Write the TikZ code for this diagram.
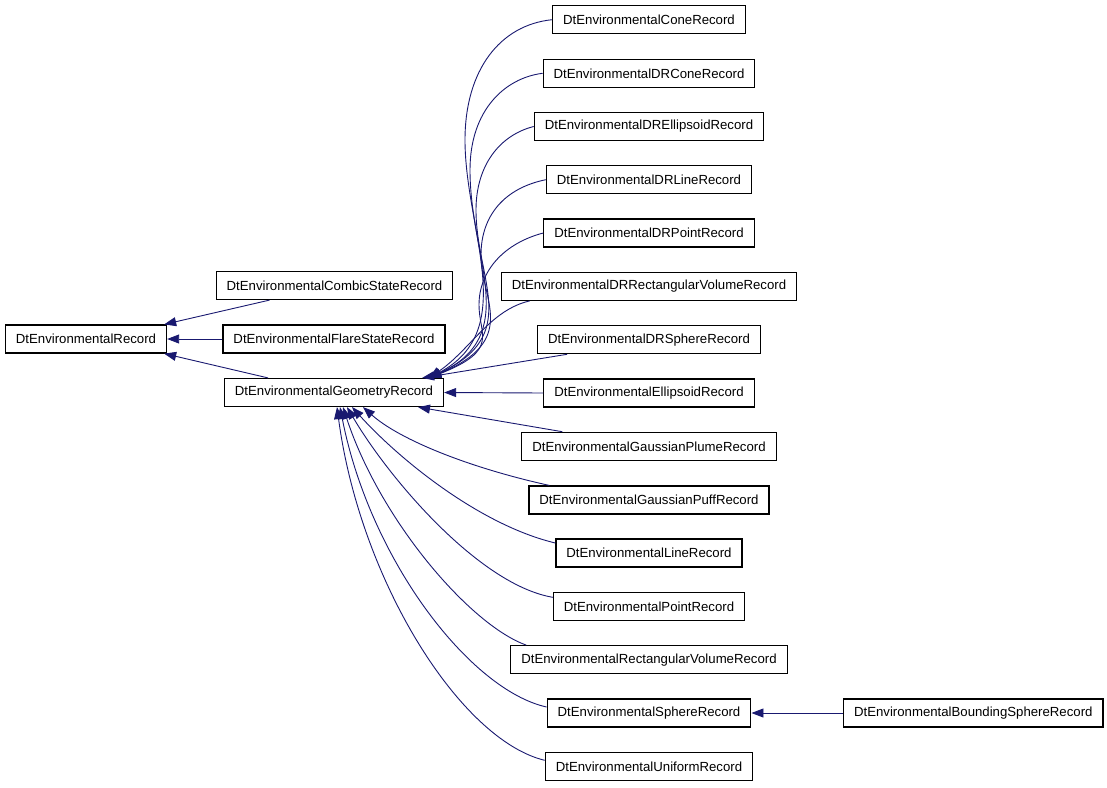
\documentclass[tikz,border=0pt]{standalone}
\usepackage{fontspec}
\setmainfont{Liberation Sans}
\usetikzlibrary{arrows.meta}
\definecolor{edgeblue}{RGB}{25,25,112}
\tikzset{
  cls/.style={draw=black, line width=1.2pt, minimum height=28pt, inner xsep=10.5pt, inner ysep=2pt,
    font=\fontsize{13.2}{15}\selectfont},
  inh/.style={draw=edgeblue, line width=0.9pt, {Triangle[length=12pt,width=9pt]}-}
}
\begin{document}
\begin{tikzpicture}[x=1pt,y=-1pt]
\useasboundingbox (0,0) rectangle (1107,787);

\node[cls] (rec) at (86,339) {DtEnvironmentalRecord};
\node[cls] (combic) at (334.5,285.5) {DtEnvironmentalCombicStateRecord};
\node[cls] (flare) at (334,339) {DtEnvironmentalFlareStateRecord};
\node[cls] (geo) at (334,392.5) {DtEnvironmentalGeometryRecord};

\node[cls] (cone) at (649,19.7) {DtEnvironmentalConeRecord};
\node[cls] (drcone) at (649,73.3) {DtEnvironmentalDRConeRecord};
\node[cls] (drell) at (649,126.5) {DtEnvironmentalDREllipsoidRecord};
\node[cls] (drline) at (649,179.7) {DtEnvironmentalDRLineRecord};
\node[cls] (drpoint) at (649,233) {DtEnvironmentalDRPointRecord};
\node[cls] (drrect) at (649,286.3) {DtEnvironmentalDRRectangularVolumeRecord};
\node[cls] (drsph) at (649,339.7) {DtEnvironmentalDRSphereRecord};
\node[cls] (ell) at (649,393) {DtEnvironmentalEllipsoidRecord};
\node[cls] (plume) at (649,446.3) {DtEnvironmentalGaussianPlumeRecord};
\node[cls] (puff) at (649,500) {DtEnvironmentalGaussianPuffRecord};
\node[cls] (line) at (649,553) {DtEnvironmentalLineRecord};
\node[cls] (point) at (649,606.3) {DtEnvironmentalPointRecord};
\node[cls] (rect) at (649,659.7) {DtEnvironmentalRectangularVolumeRecord};
\node[cls] (sph) at (649,713) {DtEnvironmentalSphereRecord};
\node[cls] (uni) at (649,766.3) {DtEnvironmentalUniformRecord};
\node[cls] (bsph) at (973.3,713) {DtEnvironmentalBoundingSphereRecord};

\draw[inh] ([xshift=-3pt]rec.north east) -- ([xshift=-65pt]combic.south);
\draw[inh] (rec.east) -- (flare.west);
\draw[inh] ([xshift=-3pt]rec.south east) -- ([xshift=-66pt]geo.north);

\draw[inh] ([xshift=-15pt]geo.north east) .. controls (520,330) and (465,230) .. (465,140)
  .. controls (465,70) and (500,25) .. (cone.west);
\draw[inh] ([xshift=-15pt]geo.north east) .. controls (522,335) and (470,260) .. (470,170)
  .. controls (470,110) and (505,78) .. (drcone.west);
\draw[inh] ([xshift=-15pt]geo.north east) .. controls (522,335) and (476,280) .. (476,210)
  .. controls (476,165) and (500,135) .. (drell.west);
\draw[inh] ([xshift=-15pt]geo.north east) .. controls (520,340) and (481,300) .. (481,255)
  .. controls (481,215) and (505,188) .. (drline.west);
\draw[inh] ([xshift=-15pt]geo.north east) .. controls (500,350) and (479,335) .. (479,305)
  .. controls (479,270) and (505,243) .. (drpoint.west);
\draw[inh] ([xshift=-15pt]geo.north east) .. controls (470,350) and (490,310) .. ([xshift=29pt]drrect.south west);
\draw[inh] ([xshift=-22pt]geo.north east) -- ([xshift=30pt]drsph.south west);
\draw[inh] (geo.east) -- (ell.west);

\draw[inh] ([xshift=84pt]geo.south) -- ([xshift=41pt]plume.north west);
\draw[inh] ([xshift=29pt]geo.south) .. controls (400,440) and (470,468) .. ([xshift=21pt]puff.north west);
\draw[inh] ([xshift=18pt]geo.south) .. controls (400,460) and (480,525) .. ([yshift=10pt]line.west);
\draw[inh] ([xshift=13pt]geo.south) .. controls (390,480) and (480,585) .. ([yshift=9pt]point.west);
\draw[inh] ([xshift=9pt]geo.south) .. controls (380,520) and (470,625) .. ([xshift=16pt]rect.north west);
\draw[inh] ([xshift=6pt]geo.south) .. controls (370,560) and (470,690) .. ([yshift=6pt]sph.west);
\draw[inh] ([xshift=3pt]geo.south) .. controls (360,580) and (460,740) .. ([yshift=6pt]uni.west);

\draw[inh] (sph.east) -- (bsph.west);
\end{tikzpicture}
\end{document}
